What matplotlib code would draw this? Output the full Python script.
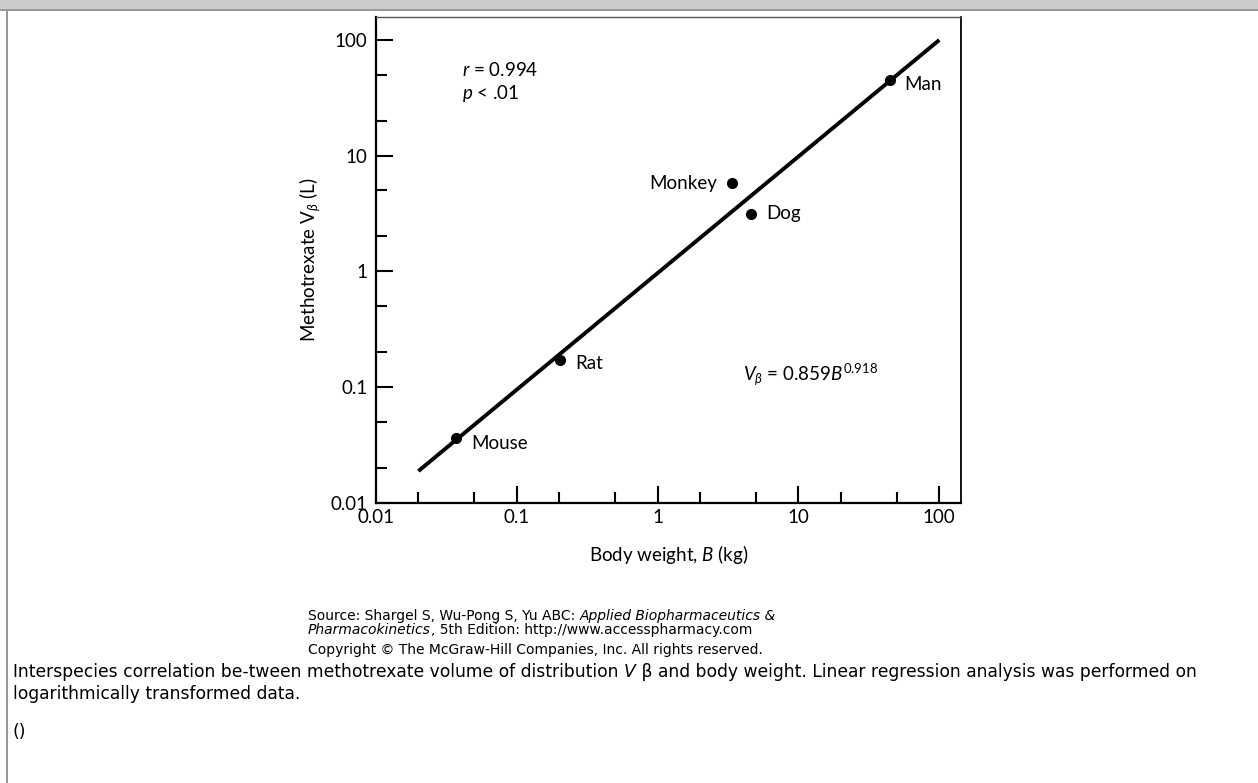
import numpy as np
import matplotlib
matplotlib.use("Agg")
import matplotlib.pyplot as plt
from matplotlib.patches import Rectangle
from matplotlib.ticker import FixedLocator, FixedFormatter, NullFormatter

# data
species = ["Mouse", "Rat", "Monkey", "Dog", "Man"]
body_weight = [0.037, 0.204, 3.38, 4.57, 44.8]      # kg
v_beta = [0.036, 0.172, 5.74, 3.12, 45.1]            # L
fit_x = [0.02, 100.0]
fit_y = [0.0187, 100.0]

major_ticks = [0.01, 0.1, 1, 10, 100]
major_labels = ["0.01", "0.1", "1", "10", "100"]
minor_ticks = [0.02, 0.05, 0.2, 0.5, 2, 5, 20, 50]

# label offsets in points (dx, dy, ha)
label_offsets = {
    "Mouse": (11, -3.5, "left"),
    "Rat": (11, -3, "left"),
    "Monkey": (-11, 0, "right"),
    "Dog": (11, 0.5, "left"),
    "Man": (10, -3, "left"),
}

W, H = 1258, 783
FS = 13.5
plt.rcParams["font.family"] = ["Lato", "DejaVu Sans"]
plt.rcParams["mathtext.fontset"] = "custom"
plt.rcParams["mathtext.rm"] = "Lato"
plt.rcParams["mathtext.it"] = "Lato:italic"

fig = plt.figure(figsize=(W / 100, H / 100), dpi=100)


def px(x, y):
    return x / W, 1 - y / H


# page furniture: grey header bar and left frame line
fig.patches.append(Rectangle((0, 1 - 9 / H), 1, 9 / H, transform=fig.transFigure,
                             facecolor="#cccccc", edgecolor="none"))
fig.patches.append(Rectangle((0, 1 - 11 / H), 1, 2 / H, transform=fig.transFigure,
                             facecolor="#999999", edgecolor="none"))
fig.patches.append(Rectangle((6 / W, 0), 1.6 / W, 1 - 9 / H, transform=fig.transFigure,
                             facecolor="#999999", edgecolor="none"))

ax = fig.add_axes([376 / W, 1 - 502.5 / H, (961 - 376) / W, (502.5 - 17) / H])
ax.set_xscale("log")
ax.set_yscale("log")
ax.set_xlim(0.01, 142.6)
ax.set_ylim(0.01, 158)

ax.plot(fit_x, fit_y, color="black", lw=2.8, solid_capstyle="butt")
ax.plot(body_weight, v_beta, "o", color="black", ms=7)

for name, bx, vy in zip(species, body_weight, v_beta):
    dx, dy, ha = label_offsets[name]
    ax.annotate(name, (bx, vy), xytext=(dx, dy), textcoords="offset points",
                ha=ha, va="center", fontsize=FS)

for axis in (ax.xaxis, ax.yaxis):
    axis.set_major_locator(FixedLocator(major_ticks))
    axis.set_major_formatter(FixedFormatter(major_labels))
    axis.set_minor_locator(FixedLocator(minor_ticks))
    axis.set_minor_formatter(NullFormatter())

ax.tick_params(which="major", direction="in", length=12, width=1.5, labelsize=FS,
               top=False, right=False)
ax.tick_params(which="minor", direction="in", length=8, width=1.5, top=False, right=False)
ax.tick_params(axis="y", which="major", pad=6)
ax.tick_params(axis="x", which="major", pad=5)

ax.spines["left"].set_linewidth(1.6)
ax.spines["bottom"].set_linewidth(1.6)
ax.spines["right"].set_linewidth(1.3)
ax.spines["top"].set_linewidth(1.0)
ax.spines["top"].set_color("#555555")

ax.set_xlabel(r"Body weight, $B$ (kg)", fontsize=FS, labelpad=12)
ax.set_ylabel(r"Methotrexate $\mathrm{V}_{\beta}$ (L)", fontsize=FS, labelpad=6)

ax.text(0.147, 0.891, r"$r$ = 0.994", transform=ax.transAxes, fontsize=FS, va="center")
ax.text(0.147, 0.843, r"$p$ < .01", transform=ax.transAxes, fontsize=FS, va="center")
ax.text(0.627, 0.263, r"$V_{\beta}$ = 0.859$B^{0.918}$", transform=ax.transAxes,
        fontsize=FS, va="center")


def text_run(x, y, pieces, **kw):
    # write pieces one after another, each piece is (string, style)
    first = fig.text(*px(x, y), pieces[0][0], style=pieces[0][1], va="bottom", **kw)
    prev = first
    for s, st in pieces[1:]:
        prev = ax.annotate(s, xy=(1, 0), xycoords=prev, va="bottom", ha="left",
                           style=st, annotation_clip=False, **kw)
    return first


# source / copyright / caption
src_kw = dict(fontsize=10.0, family="DejaVu Sans")
text_run(308, 623, [("Source: Shargel S, Wu-Pong S, Yu ABC: ", "normal"),
                    ("Applied Biopharmaceutics &", "italic")], **src_kw)
text_run(308, 637, [("Pharmacokinetics", "italic"),
                    (", 5th Edition: http://www.accesspharmacy.com", "normal")], **src_kw)
text_run(308, 657, [("Copyright \u00a9 The McGraw-Hill Companies, Inc. All rights reserved.",
                     "normal")], **src_kw)

cap_kw = dict(fontsize=12.3, family="DejaVu Sans")
text_run(13, 681, [("Interspecies correlation be-tween methotrexate volume of distribution ", "normal"),
                   ("V", "italic"),
                   (" \u03b2 and body weight. Linear regression analysis was performed on", "normal")],
         **cap_kw)
text_run(13, 703, [("logarithmically transformed data.", "normal")], **cap_kw)
text_run(13, 741, [("()", "normal")], **cap_kw)

fig.savefig("out.png", dpi=100)
